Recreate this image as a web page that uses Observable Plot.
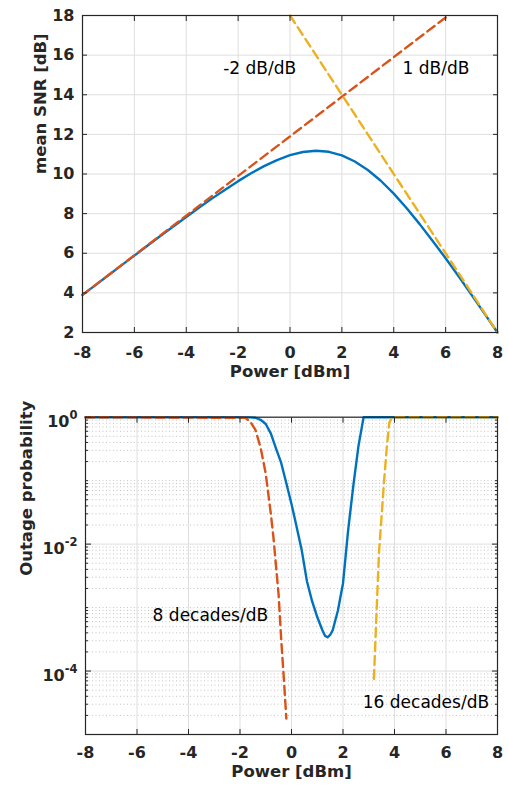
<!DOCTYPE html>
<html><head><meta charset="utf-8">
<script src="https://cdn.jsdelivr.net/npm/d3@7"></script>
<script src="https://cdn.jsdelivr.net/npm/@observablehq/plot@0.6"></script>
<style>
body{margin:0;background:#fff;}
#chart{width:508px;height:789px;}
svg{display:block;}
</style></head><body><div id="chart"></div>
<script>
// ---------- data ----------
const powerTicks = [-8, -6, -4, -2, 0, 2, 4, 6, 8];
const snrTicks = [2, 4, 6, 8, 10, 12, 14, 16, 18];

const snrPower = [-8, -7.5, -7, -6.5, -6, -5.5, -5, -4.5, -4, -3.5, -3, -2.5, -2, -1.5, -1, -0.5, 0, 0.5, 1, 1.5, 2, 2.5, 3, 3.5, 4, 4.5, 5, 5.5, 6, 6.5, 7, 7.5, 8];
const snrMean  = [3.90, 4.39, 4.89, 5.39, 5.88, 6.38, 6.87, 7.35, 7.83, 8.31, 8.77, 9.21, 9.64, 10.04, 10.40, 10.70, 10.95, 11.11, 11.17, 11.12, 10.94, 10.63, 10.20, 9.66, 9.01, 8.27, 7.47, 6.62, 5.75, 4.84, 3.90, 2.95, 2.00];

const slopePlus1Power = [-8, 6.1];
const slopePlus1Snr = [3.9, 18];
const slopeMinus2Power = [0, 8];
const slopeMinus2Snr = [18, 2];

const snrNoteText = ["-2 dB/dB", "1 dB/dB"];
const snrNoteX = [-1.17, 5.63];
const snrNoteY = [15.33, 15.33];

const outageMajorTicks = [1e-4, 1e-2, 1];
const outageDecades = [1e-5, 1e-4, 1e-3, 1e-2, 1e-1];

const outagePower = [-8, -2, -1.6, -1.4, -1.2, -1.0, -0.8, -0.6, -0.4, -0.2, 0, 0.2, 0.4, 0.6, 0.8, 1.0, 1.2, 1.3, 1.4, 1.5, 1.6, 1.8, 2.0, 2.2, 2.4, 2.6, 2.8, 8];
const outageProb  = [1, 1, 0.995, 0.98, 0.91, 0.78, 0.55, 0.32, 0.19, 0.091, 0.043, 0.0186, 0.0079, 0.0026, 0.00126, 7.1e-4, 4.4e-4, 3.6e-4, 3.4e-4, 3.7e-4, 4.4e-4, 8.9e-4, 2.4e-3, 0.0166, 0.083, 0.35, 1, 1];

const lowSlopePower = [-8, -1.8, -1.6, -1.4, -1.2, -1.0, -0.8, -0.7, -0.6, -0.5, -0.4, -0.3, -0.2];
const lowSlopeProb  = [1, 0.977, 0.851, 0.631, 0.331, 0.129, 0.0295, 0.0126, 0.00447, 0.00158, 3.16e-4, 7.9e-5, 1.78e-5];

const highSlopePower = [3.2, 3.3, 3.4, 3.5, 3.6, 3.7, 3.8, 3.9, 4.0, 8];
const highSlopeProb  = [7.5e-5, 7.9e-4, 7.6e-3, 0.028, 0.105, 0.33, 0.83, 0.977, 1, 1];

const outageNoteText = ["8 decades/dB", "16 decades/dB"];
const outageNoteX = [-3.15, 5.22];
const outageNoteY = [7.5e-4, 3.2e-5];

// ---------- styling ----------
const FONT = "'DejaVu Sans', 'Liberation Sans', Arial, sans-serif";
const AX = "#262626";
const GRID = "#dedede";
const BLUE = "#0072BD", ORANGE = "#D95319", YELLOW = "#EDB120";
const LW = 2.4, DASH = "9,5";
const TICK_FS = 16, LABEL_FS = 16.5, NOTE_FS = 17;
const fmt = d => String(d);

const zip = (xs, ys) => xs.map((x, i) => ({x, y: ys[i]}));

// ---------- top chart ----------
const topChart = Plot.plot({
  width: 508, height: 390,
  marginLeft: 82, marginRight: 11, marginTop: 15, marginBottom: 58,
  style: {fontFamily: FONT, fontSize: TICK_FS + "px", color: AX, background: "white", overflow: "visible"},
  x: {domain: [-8, 8]},
  y: {domain: [2, 18]},
  marks: [
    Plot.gridX(powerTicks, {stroke: GRID, strokeOpacity: 1}),
    Plot.gridY(snrTicks, {stroke: GRID, strokeOpacity: 1}),
    Plot.line(zip(snrPower, snrMean), {x: "x", y: "y", stroke: BLUE, strokeWidth: LW}),
    Plot.line(zip(slopePlus1Power, slopePlus1Snr), {x: "x", y: "y", stroke: ORANGE, strokeWidth: LW, strokeDasharray: DASH}),
    Plot.line(zip(slopeMinus2Power, slopeMinus2Snr), {x: "x", y: "y", stroke: YELLOW, strokeWidth: LW, strokeDasharray: DASH}),
    Plot.text(snrNoteText.map((t, i) => ({t, x: snrNoteX[i], y: snrNoteY[i]})), {x: "x", y: "y", text: "t", fontSize: NOTE_FS, fill: "black"}),
    Plot.frame({stroke: AX, strokeWidth: 1.2}),
    Plot.axisX(powerTicks, {anchor: "bottom", tickSize: -5, fill: "none", stroke: AX, label: null}),
    Plot.axisX(powerTicks, {anchor: "top", tickSize: -5, fill: "none", stroke: AX, label: null}),
    Plot.axisY(snrTicks, {anchor: "left", tickSize: -5, fill: "none", stroke: AX, label: null}),
    Plot.axisY(snrTicks, {anchor: "right", tickSize: -5, fill: "none", stroke: AX, label: null}),
    Plot.axisX(powerTicks, {anchor: "bottom", tickSize: 0, tickPadding: 14, fontWeight: "bold", fill: AX, label: null, tickFormat: fmt}),
    Plot.axisY(snrTicks, {anchor: "left", tickSize: 0, tickPadding: 8, fontWeight: "bold", fill: AX, label: null, tickFormat: fmt}),
    Plot.text(["Power [dBm]"], {frameAnchor: "bottom", dy: 44.3, fontWeight: "bold", fontSize: LABEL_FS, fill: AX}),
    Plot.text(["mean SNR [dB]"], {frameAnchor: "left", dx: -42, rotate: -90, fontWeight: "bold", fontSize: LABEL_FS, fill: AX})
  ]
});

// ---------- bottom chart ----------
const minorTicks = [];
outageDecades.forEach(d => { for (let m = 1; m <= 9; m++) minorTicks.push(d * m); });
const minorGrid = minorTicks.filter(v => !outageMajorTicks.some(t => Math.abs(t - v) < v * 1e-6));

const bottomChart = Plot.plot({
  width: 508, height: 399,
  marginLeft: 85, marginRight: 11, marginTop: 26.7, marginBottom: 55,
  style: {fontFamily: FONT, fontSize: TICK_FS + "px", color: AX, background: "white", overflow: "visible"},
  x: {domain: [-8, 8]},
  y: {type: "log", domain: [1e-5, 1]},
  marks: [
    Plot.gridY(minorGrid, {stroke: "#c4c4c4", strokeOpacity: 1, strokeDasharray: "1,2.5"}),
    Plot.gridX(powerTicks, {stroke: GRID, strokeOpacity: 1}),
    Plot.gridY(outageMajorTicks, {stroke: GRID, strokeOpacity: 1}),
    Plot.line(zip(outagePower, outageProb), {x: "x", y: "y", stroke: BLUE, strokeWidth: LW}),
    Plot.line(zip(lowSlopePower, lowSlopeProb), {x: "x", y: "y", stroke: ORANGE, strokeWidth: LW, strokeDasharray: DASH}),
    Plot.line(zip(highSlopePower, highSlopeProb), {x: "x", y: "y", stroke: YELLOW, strokeWidth: LW, strokeDasharray: DASH}),
    Plot.text(outageNoteText.map((t, i) => ({t, x: outageNoteX[i], y: outageNoteY[i]})), {x: "x", y: "y", text: "t", fontSize: NOTE_FS, fill: "black"}),
    Plot.frame({stroke: AX, strokeWidth: 1.2}),
    Plot.axisX(powerTicks, {anchor: "bottom", tickSize: -5, fill: "none", stroke: AX, label: null}),
    Plot.axisX(powerTicks, {anchor: "top", tickSize: -5, fill: "none", stroke: AX, label: null}),
    Plot.axisY(minorGrid, {anchor: "left", tickSize: -3, fill: "none", stroke: AX, label: null}),
    Plot.axisY(minorGrid, {anchor: "right", tickSize: -3, fill: "none", stroke: AX, label: null}),
    Plot.axisY(outageMajorTicks, {anchor: "left", tickSize: -6, fill: "none", stroke: AX, label: null}),
    Plot.axisY(outageMajorTicks, {anchor: "right", tickSize: -6, fill: "none", stroke: AX, label: null}),
    Plot.axisX(powerTicks, {anchor: "bottom", tickSize: 0, tickPadding: 12.3, fontWeight: "bold", fill: AX, label: null, tickFormat: fmt}),
    Plot.axisY(outageMajorTicks, {anchor: "left", tickSize: 0, tickPadding: 8, dy: 5, fontWeight: "bold", fill: AX, label: null,
      tickFormat: v => "10^" + Math.round(Math.log10(v))}),
    Plot.text(["Power [dBm]"], {frameAnchor: "bottom", dy: 42.6, fontWeight: "bold", fontSize: LABEL_FS, fill: AX}),
    Plot.text(["Outage probability"], {frameAnchor: "left", dx: -59, rotate: -90, fontWeight: "bold", fontSize: LABEL_FS, fill: AX})
  ]
});

// superscript exponents on the log axis labels
const NS = "http://www.w3.org/2000/svg";
bottomChart.querySelectorAll("text").forEach(t => {
  const m = /^10\^(-?\d+)$/.exec(t.textContent);
  if (m) {
    t.textContent = "10";
    const s = document.createElementNS(NS, "tspan");
    s.setAttribute("dy", "-8.5");
    s.setAttribute("font-size", "11.5");
    s.textContent = m[1];
    t.appendChild(s);
  }
});

const root = document.getElementById("chart");
root.appendChild(topChart);
root.appendChild(bottomChart);
</script>
</body></html>
